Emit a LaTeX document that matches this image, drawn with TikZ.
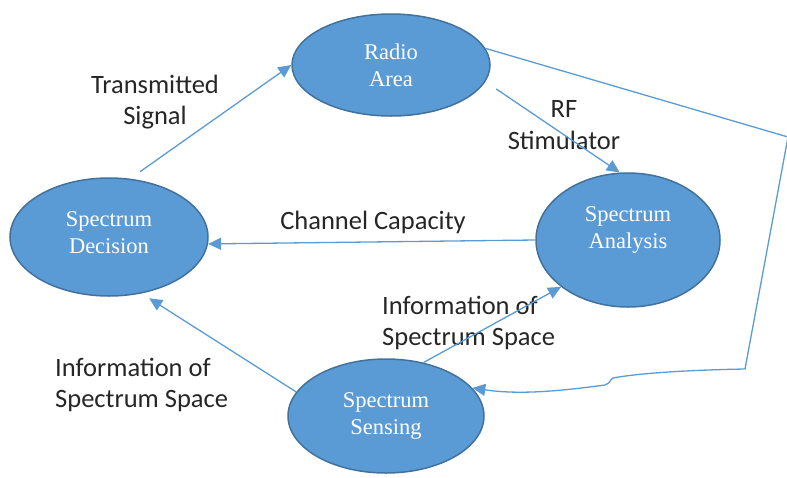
\documentclass[tikz,border=0pt]{standalone}
\usepackage{fontspec}
\setmainfont{Liberation Serif}
\newfontfamily\lab{Carlito}
\usetikzlibrary{shapes.geometric,arrows.meta}
\definecolor{fillblue}{HTML}{5B9BD5}
\definecolor{edgeblue}{HTML}{41719C}
\definecolor{lineblue}{HTML}{5B9BD5}
\tikzset{
  bubble/.style={ellipse,draw=edgeblue,line width=1.5pt,fill=fillblue,text=white,
     font=\fontsize{22.5}{27}\selectfont,align=center,inner sep=0pt},
  conn/.style={draw=lineblue,line width=1.3pt,-{Triangle[length=13pt,width=12pt]}},
  lbl/.style={font=\lab\fontsize{26.5}{31.5}\selectfont,text=black!85,inner sep=0pt},
}
\begin{document}
\begin{tikzpicture}[x=1pt,y=-1pt]
\useasboundingbox (0,0) rectangle (787,477);
\node[bubble,minimum width=198pt,minimum height=102pt] (radio) at (391,65) {Radio\\Area};
\node[bubble,minimum width=198pt,minimum height=118pt] (dec) at (109,237) {};
\node[bubble,minimum width=184pt,minimum height=134pt] (ana) at (628,240) {};
\node[bubble,minimum width=196pt,minimum height=114pt] (sen) at (386,416) {Spectrum\\Sensing};
\node[bubble,fill=none,draw=none] (dect) at (109,233) {Spectrum\\Decision};
\node[bubble,fill=none,draw=none] (anat) at (628,230) {Spectrum\\Analysis};

\node[lbl,align=center] (ts) at (155,102) {Transmitted\\Signal};
\node[lbl,align=center] (rf) at (564,125) {RF\\Stimulator};
\node[lbl] (cc) at (373,222) {Channel Capacity};
\node[lbl,align=left,anchor=west] (isr) at (382,323) {Information of\\Spectrum Space};
\node[lbl,align=left,anchor=west] (isl) at (55,385) {Information of\\Spectrum Space};

\draw[conn,shorten <=12pt] (dec.70) -- (radio.west);
\draw[conn,shorten <=13pt] (radio.-10) -- (ana.97);
\draw[conn] (ana.west) -- (dec.-4);
\draw[conn,shorten >=9pt] (sen.165) -- (dec.-60);
\draw[conn] (sen.55) -- (ana.215);

\coordinate (c1) at (788,137);
\coordinate (c2) at (745,369);
\coordinate (c3) at (613,378);
\coordinate (c4) at (605,385);
\draw[conn] (radio.10) -- (c1) -- (c2) .. controls (690,370) and (640,373) .. (c3)
  .. controls (610,379) and (611,383) .. (c4) .. controls (560,391) and (520,395) .. (sen.18);
\end{tikzpicture}
\end{document}
